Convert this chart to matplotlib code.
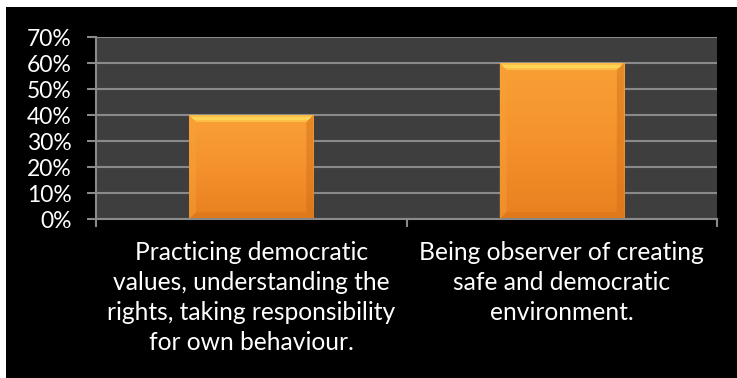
import matplotlib
matplotlib.use("Agg")
import matplotlib.pyplot as plt
import numpy as np
from matplotlib.patches import Rectangle, Polygon
from matplotlib.ticker import FixedLocator, PercentFormatter, NullFormatter
from matplotlib.colors import LinearSegmentedColormap
from matplotlib.transforms import blended_transform_factory, ScaledTranslation

categories = [
    "Practicing democratic\nvalues, understanding the\nrights, taking responsibility\nfor own behaviour.",
    "Being observer of creating\nsafe and democratic\nenvironment.",
]
values = [0.40, 0.60]
y_ticks = [0.0, 0.1, 0.2, 0.3, 0.4, 0.5, 0.6, 0.7]

W, H, DPI = 737, 378, 100
fig = plt.figure(figsize=(W / DPI, H / DPI), dpi=DPI, facecolor="white")
plt.rcParams["font.family"] = ["Lato", "DejaVu Sans"]

# black chart area inside a thin white margin
fig.patches.append(Rectangle((6 / W, 0), 1 - 6 / W, 1 - 7 / H, transform=fig.transFigure,
                             facecolor="black", edgecolor="none", zorder=-5))

left, right, top, bottom = 96, 717, 37, 219
ax = fig.add_axes([left / W, (H - bottom) / H, (right - left) / W, (bottom - top) / H])
ax.set_zorder(2)
ax.set_facecolor("#3e3e3e")

x = np.arange(len(categories))
bars = ax.bar(x, values, width=0.4, color="#f5922c", zorder=3)

ax.set_xlim(-0.5, len(categories) - 0.5)
ax.set_ylim(0, 0.7)
ax.yaxis.set_major_locator(FixedLocator(y_ticks))
ax.yaxis.set_major_formatter(PercentFormatter(1.0, decimals=0))
ax.grid(axis="y", color="#8a8a8a", linewidth=1.5, zorder=1)
ax.set_axisbelow(True)

for s in ["top", "right"]:
    ax.spines[s].set_visible(False)
for s in ["left", "bottom"]:
    ax.spines[s].set_color("#8a8a8a")
    ax.spines[s].set_linewidth(1.5)
    ax.spines[s].set_zorder(4)

ax.tick_params(axis="y", colors="#8a8a8a", labelcolor="white", labelsize=16.5,
               length=6.5, width=1.5, pad=11)
ax.set_xticks(x)
ax.xaxis.set_major_formatter(NullFormatter())
ax.tick_params(axis="x", which="major", length=0)
ax.set_xticks(np.arange(-0.5, len(categories), 1.0), minor=True)
ax.tick_params(axis="x", which="minor", length=6, width=1.5, color="#8a8a8a")

# wrapped category labels below the axis
tr = blended_transform_factory(ax.transData, ax.transAxes) + \
    ScaledTranslation(0, -16 / 72, fig.dpi_scale_trans)
for xi, lab in zip(x, categories):
    ax.text(xi, 0, lab, transform=tr, ha="center", va="top", color="white",
            fontsize=17.7, linespacing=1.36, multialignment="center", clip_on=False)

# beveled orange shading for each bar
cmap = LinearSegmentedColormap.from_list("orange", ["#e8801f", "#f5922c", "#f8a035"])
grad = (np.linspace(0, 1, 64)[:, None] * np.ones((1, 8)))[::-1]
fig.canvas.draw()
to_data = ax.transData.inverted()
for b in bars:
    x0, y0 = b.get_x(), b.get_y()
    x1, y1 = x0 + b.get_width(), y0 + b.get_height()
    im = ax.imshow(grad, cmap=cmap, extent=(x0, x1, y0, y1), aspect="auto",
                   zorder=3.1, interpolation="bilinear", origin="upper")
    im.set_clip_path(b)
    (px0, py0) = ax.transData.transform((x0, y0))
    (px1, py1) = ax.transData.transform((x1, y1))
    bev = 7
    pts = lambda P: [tuple(to_data.transform(p)) for p in P]
    ax.add_patch(Polygon(pts([(px0, py1), (px1, py1), (px1 - bev, py1 - bev), (px0 + bev, py1 - bev)]),
                         closed=True, facecolor="#ffbe45", edgecolor="none", zorder=3.2))
    ax.add_patch(Polygon(pts([(px0 + 2, py1 - 2), (px1 - 2, py1 - 2), (px1 - 5, py1 - 5), (px0 + 5, py1 - 5)]),
                         closed=True, facecolor="#ffd455", edgecolor="none", zorder=3.3))
    ax.add_patch(Polygon(pts([(px0, py0), (px0, py1), (px0 + bev, py1 - bev), (px0 + bev, py0 + bev)]),
                         closed=True, facecolor="#f7a23a", edgecolor="none", zorder=3.2, alpha=0.45))
    ax.add_patch(Polygon(pts([(px1, py0), (px1, py1), (px1 - bev, py1 - bev), (px1 - bev, py0 + bev)]),
                         closed=True, facecolor="#d06e18", edgecolor="none", zorder=3.2, alpha=0.45))
    ax.add_patch(Polygon(pts([(px0, py0), (px1, py0), (px1 - bev, py0 + bev), (px0 + bev, py0 + bev)]),
                         closed=True, facecolor="#d06e18", edgecolor="none", zorder=3.2, alpha=0.35))

ax.set_xlim(-0.5, len(categories) - 0.5)
ax.set_ylim(0, 0.7)
fig.savefig("out.png", dpi=DPI, facecolor=fig.get_facecolor())
